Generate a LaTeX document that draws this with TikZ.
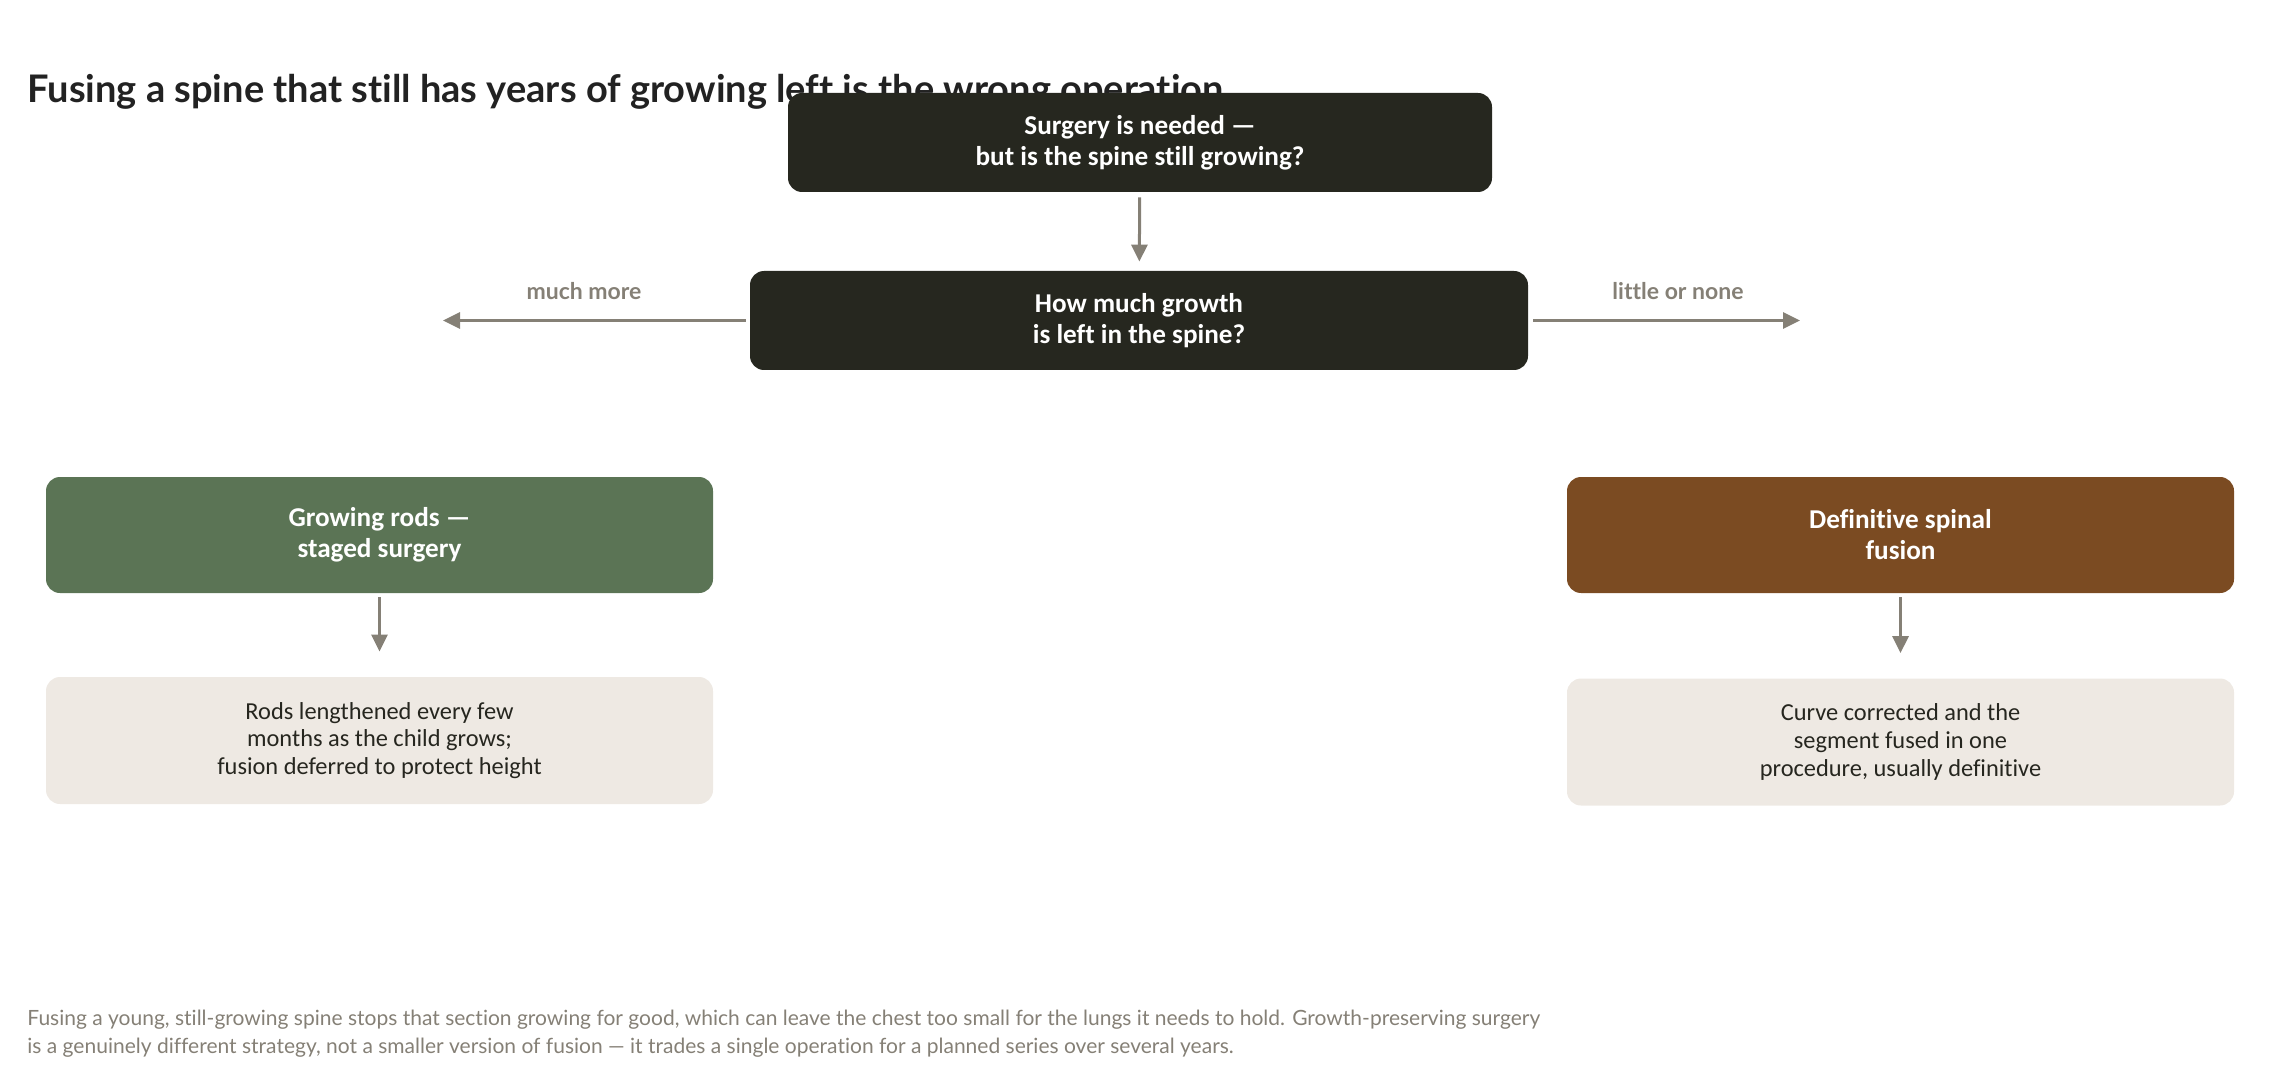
\documentclass[tikz,border=0pt]{standalone}
\usepackage{fontspec}
\setmainfont{Lato}[Ligatures=NoCommon]
\newfontfamily\boxfont{Carlito}[Ligatures=NoCommon]
\usetikzlibrary{arrows.meta}
\definecolor{darkbox}{HTML}{26271F}
\definecolor{rodgreen}{HTML}{5B7455}
\definecolor{fusebrown}{HTML}{7B4B22}
\definecolor{paleback}{HTML}{EEE9E3}
\definecolor{arrowgray}{HTML}{858076}
\definecolor{titleink}{HTML}{222222}
\definecolor{bodyink}{HTML}{26261F}

\begin{document}
\begin{tikzpicture}[x=0.5pt,y=-0.5pt,
    question/.style={fill=darkbox, rounded corners=7pt, text=white,
      font=\boxfont\bfseries\fontsize{13.6}{15.5}\selectfont, align=center,
      minimum height=49.5pt, inner sep=0pt},
    option/.style={rounded corners=7pt, text=white,
      font=\boxfont\bfseries\fontsize{13.6}{15.5}\selectfont, align=center,
      minimum width=333.5pt, minimum height=58pt, inner sep=0pt},
    outcome/.style={fill=paleback, rounded corners=7pt, text=bodyink,
      font=\boxfont\fontsize{12.2}{13.8}\selectfont, align=center,
      minimum width=333.5pt, minimum height=63.5pt, inner sep=0pt},
    flow/.style={draw=arrowgray, line width=1.5pt,
      -{Triangle[length=8.5pt,width=8pt]}},
    branch/.style={text=arrowgray, font=\bfseries\fontsize{11.5}{13}\selectfont}]
  \useasboundingbox (0,0) rectangle (2280,1080);
  % title
  \node[anchor=base west, text=titleink, inner sep=0pt,
    font=\bfseries\fontsize{19}{23}\selectfont] (title) at (27,103)
    {Fusing a spine that still has years of growing left is the wrong operation};
  % questions
  \node[question, minimum width=352pt] (needed) at (1140,142.5)
    {Surgery is needed —\\but is the spine still growing?};
  \node[question, minimum width=389pt] (growth) at (1139,320.5)
    {How much growth\\is left in the spine?};
  % options
  \node[option, fill=rodgreen] (rods) at (379.5,535)
    {Growing rods —\\staged surgery};
  \node[option, fill=fusebrown] (fusion) at (1900.5,535)
    {Definitive spinal\\fusion};
  % outcomes
  \node[outcome] (rodsnote) at (379.5,740.5)
    {Rods lengthened every few\\months as the child grows;\\fusion deferred to protect height};
  \node[outcome] (fusionnote) at (1900.5,742)
    {Curve corrected and the\\segment fused in one\\procedure, usually definitive};
  % branch ends
  \coordinate (muchend) at (443,320.5);
  \coordinate (littleend) at (1800,320.5);
  % arrows
  \draw[flow, shorten <=2.5pt, shorten >=4.5pt] (needed) -- (growth);
  \draw[flow, shorten <=2pt] (growth.west) -- (muchend);
  \draw[flow, shorten <=2.5pt] (growth.east) -- (littleend);
  \draw[flow, shorten <=2pt, shorten >=12.5pt] (rods) -- (rodsnote);
  \draw[flow, shorten <=2pt, shorten >=12.5pt] (fusion) -- (fusionnote);
  % branch labels
  \node[branch, anchor=base] (muchlabel) at (584,299.5) {much more};
  \node[branch, anchor=base] (littlelabel) at (1678,299.5) {little or none};
  % footer
  \node[anchor=north west, text=arrowgray, inner sep=0pt, align=left,
    font=\fontsize{10.5}{14.25}\selectfont] (footer) at (27,1009.5)
    {Fusing a young, still-growing spine stops that section growing for good, which can leave the chest too small for the lungs it needs to hold. Growth-preserving surgery\\
     is a genuinely different strategy, not a smaller version of fusion — it trades a single operation for a planned series over several years.};
\end{tikzpicture}
\end{document}
